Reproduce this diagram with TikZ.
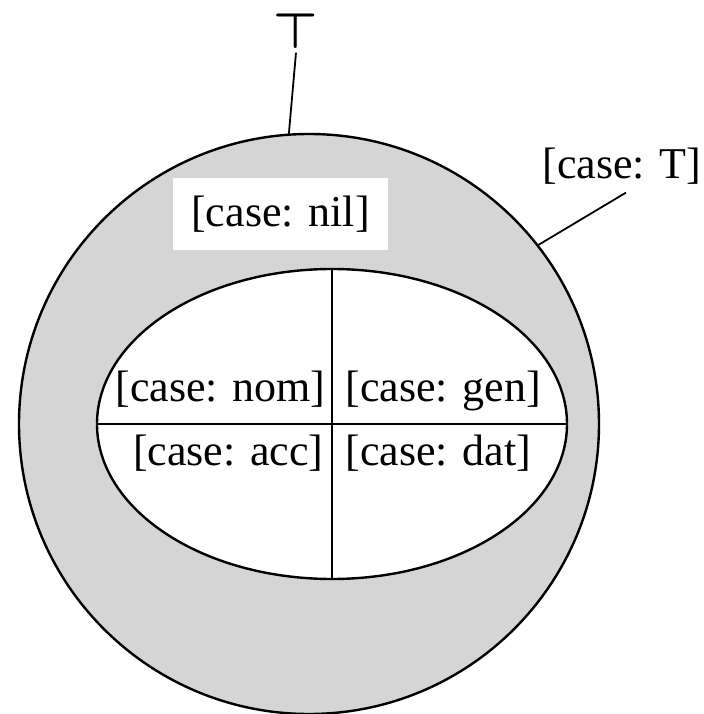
\documentclass[tikz,border=0pt]{standalone}
\usepackage{amsmath}
\usepackage{fontspec}
\setmainfont{Liberation Serif}
\usepackage{tikz}
\usetikzlibrary{shapes.geometric}

\tikzset{
	lbl/.style={font=\fontsize{22}{26}\selectfont, inner sep=0pt},
	rim/.style={draw, line width=1.2pt, inner sep=0pt, outer sep=0pt},
}

\begin{document}
\begin{tikzpicture}[x=0.5pt, y=0.5pt]
	\useasboundingbox (0,0) rectangle (704,714);

	% the whole case region and the four proper cases inside it
	\node [rim, circle, fill=gray!33, minimum size=290pt] (outer) at (309,290) {};
	\node [rim, ellipse, fill=white, minimum width=235pt, minimum height=155pt] (cases) at (332,290) {};
	\draw [line width=0.9pt] (cases.north) -- (cases.south);
	\draw [line width=0.9pt] (cases.west) -- (cases.east);

	\node [lbl, anchor=base east] (nom) at (326,312) {[case: nom]};
	\node [lbl, anchor=base west] (gen) at (345,312) {[case: gen]};
	\node [lbl, anchor=base east] (acc) at (324,249) {[case: acc]};
	\node [lbl, anchor=base west] (dat) at (345,249) {[case: dat]};

	\node [lbl, fill=white, minimum width=107.5pt, minimum height=36pt] (nil) at (280.5,500) {[case: nil]};

	% labels outside
	\node [font=\fontsize{25}{28}\selectfont, inner sep=2pt] (topsym) at (296,683) {$\boldsymbol{\top}$};
	\draw [line width=0.9pt] (topsym.south) -- (outer.94);
	\node [lbl, inner sep=4pt] (caseT) at (622,548) {[case: T]};
	\draw [line width=0.9pt] ([xshift=2pt]caseT.south) -- (outer.38);

\end{tikzpicture}
\end{document}
